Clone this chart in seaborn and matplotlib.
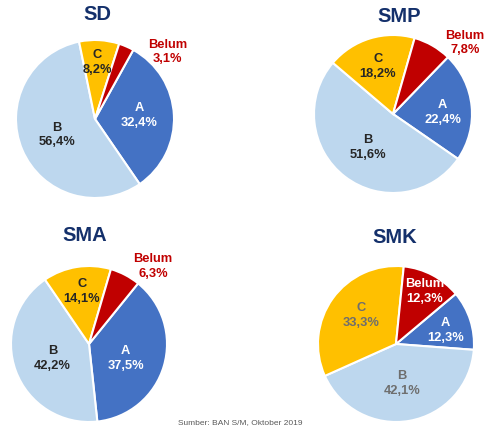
import matplotlib
matplotlib.use('Agg')

import matplotlib.pyplot as plt
import seaborn as sns

sns.set_theme(style="white")
plt.rcParams['font.family'] = ['Liberation Sans', 'DejaVu Sans']

categories = ['A', 'B', 'C', 'Belum']
schools = ['SD', 'SMP', 'SMA', 'SMK']
sd_values = [32.4, 56.4, 8.2, 3.1]
smp_values = [22.4, 51.6, 18.2, 7.8]
sma_values = [37.5, 42.2, 14.1, 6.3]
smk_values = [12.3, 42.1, 33.3, 12.3]
source_note = 'Sumber: BAN S/M, Oktober 2019'

colors = ['#4472C4', '#BDD7EE', '#FFC000', '#C00000']
title_color = '#14306B'

W, H = 486, 427
fig = plt.figure(figsize=(W / 100, H / 100), dpi=100)

# pie centre (px), radius (px), start angle, title position (px)
layout = {
    'SD':  dict(c=(95, 120), r=79, start=61, title=(97, 15)),
    'SMP': dict(c=(393, 115), r=79, start=46, title=(399, 17)),
    'SMA': dict(c=(89, 345), r=78, start=51, title=(85, 236)),
    'SMK': dict(c=(396, 345), r=78, start=40, title=(395, 238)),
}
# label offsets in radius units, per school, order A, B, C, Belum
label_pos = {
    'SD':  [(0.56, 0.06), (-0.48, -0.19), (0.03, 0.73), (0.92, 0.86)],
    'SMP': [(0.63, 0.03), (-0.32, -0.41), (-0.19, 0.61), (0.91, 0.91)],
    'SMA': [(0.47, -0.17), (-0.47, -0.17), (-0.09, 0.69), (0.82, 1.01)],
    'SMK': [(0.63, 0.19), (0.08, -0.49), (-0.45, 0.38), (0.37, 0.69)],
}
label_colors = {
    'SD':  ['white', '#262626', '#262626', '#C00000'],
    'SMP': ['white', '#262626', '#262626', '#C00000'],
    'SMA': ['white', '#262626', '#262626', '#C00000'],
    'SMK': ['white', '#6E6E6E', '#6E6E6E', 'white'],
}

data = dict(zip(schools, [sd_values, smp_values, sma_values, smk_values]))

for s in schools:
    L = layout[s]
    cx, cy = L['c']
    r = L['r']
    ax = fig.add_axes([(cx - r) / W, 1 - (cy + r) / H, 2 * r / W, 2 * r / H])
    ax.pie(data[s], colors=colors, startangle=L['start'], counterclock=False,
           wedgeprops=dict(edgecolor='white', linewidth=1.5))
    ax.set_xlim(-1, 1)
    ax.set_ylim(-1, 1)
    ax.set_aspect('equal')
    ax.axis('off')
    for cat, v, (dx, dy), col in zip(categories, data[s], label_pos[s], label_colors[s]):
        txt = f"{cat}\n{v:.1f}%".replace('.', ',')
        ax.text(dx, dy, txt, ha='center', va='center', fontsize=9.3,
                fontweight='bold', color=col, linespacing=1.3)
    tx, ty = L['title']
    fig.text(tx / W, 1 - ty / H, s, ha='center', va='center', fontsize=14.5,
             fontweight='bold', color=title_color)

fig.text(240 / W, 1 - 426 / H, source_note, ha='center', va='bottom',
         fontsize=6, color='#595959')

fig.savefig('out.png', dpi=100)
